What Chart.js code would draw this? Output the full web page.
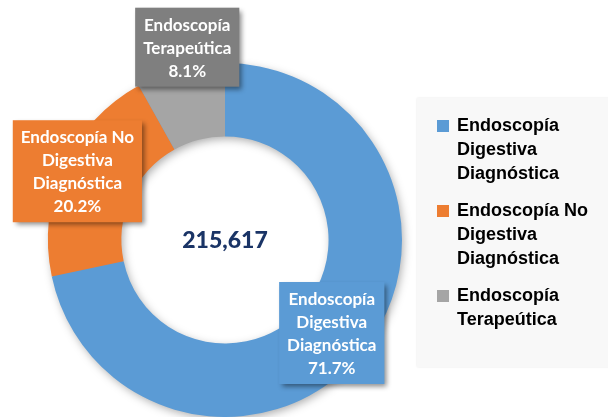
<!DOCTYPE html>
<html>
<head>
<meta charset="utf-8">
<script src="https://cdn.jsdelivr.net/npm/chart.js@4/dist/chart.umd.min.js"></script>
<style>
    html, body { margin: 0; padding: 0; background: #ffffff; }
    canvas { display: block; }
</style>
</head>
<body>
<canvas id="procChart" width="608" height="417"></canvas>
<script>
// Data
const sliceLabels = [
    ['Endoscopía', 'Digestiva', 'Diagnóstica'],
    ['Endoscopía No', 'Digestiva', 'Diagnóstica'],
    ['Endoscopía', 'Terapeútica']
];
const sharePercent = [71.7, 20.2, 8.1];
const totalProcedures = 215617;

const sliceColors = ['#5b9bd5', '#ed7d31', '#a5a5a5'];
const labelBoxColors = ['#5b9bd5', '#ed7d31', '#7f7f7f'];

// label placement: fraction of outer radius + small angle nudge (deg)
const labelRadius = [0.80, 0.92, 1.11];
const labelNudge = [2, 0.5, 3.5];

/**
 * Soft shadow under the ring, drawn before the arcs.
 */
const ringShadow = {
    id: 'ringShadow',
    beforeDatasetsDraw(chart) {
        const arc = chart.getDatasetMeta(0).data[0];
        if (!arc) return;
        const ctx = chart.ctx;
        ctx.save();
        ctx.shadowColor = 'rgba(0, 0, 0, 0.35)';
        ctx.shadowBlur = 10;
        ctx.shadowOffsetX = 2;
        ctx.shadowOffsetY = 3;
        ctx.fillStyle = '#5b9bd5';
        ctx.beginPath();
        ctx.arc(arc.x, arc.y, arc.outerRadius - 1, 0, Math.PI * 2);
        ctx.arc(arc.x, arc.y, arc.innerRadius + 1, 0, Math.PI * 2, true);
        ctx.fill('evenodd');
        ctx.restore();
    }
};

/**
 * Callout boxes with name + percent, and the total in the middle.
 */
const sliceCallouts = {
    id: 'sliceCallouts',
    afterDatasetsDraw(chart) {
        const ctx = chart.ctx;
        const arcs = chart.getDatasetMeta(0).data;
        const lineH = 23;
        ctx.save();
        ctx.font = 'bold 17px Lato';
        ctx.textAlign = 'center';
        ctx.textBaseline = 'middle';

        arcs.forEach((arc, i) => {
            const lines = sliceLabels[i].concat([sharePercent[i].toFixed(1) + '%']);
            const mid = (arc.startAngle + arc.endAngle) / 2 + labelNudge[i] * Math.PI / 180;
            const r = arc.outerRadius * labelRadius[i];
            const cx = arc.x + Math.cos(mid) * r;
            const cy = arc.y + Math.sin(mid) * r;
            const w = Math.max(...lines.map(l => ctx.measureText(l).width)) + 16;
            const h = lines.length * lineH + 10;

            ctx.save();
            ctx.shadowColor = 'rgba(0, 0, 0, 0.45)';
            ctx.shadowBlur = 5;
            ctx.shadowOffsetX = 3;
            ctx.shadowOffsetY = 3;
            ctx.fillStyle = labelBoxColors[i];
            ctx.fillRect(cx - w / 2, cy - h / 2, w, h);
            ctx.restore();

            ctx.fillStyle = '#ffffff';
            lines.forEach((l, k) => {
                ctx.fillText(l, cx, cy - h / 2 + 5 + lineH * (k + 0.5) + 1);
            });
        });

        const first = arcs[0];
        ctx.font = '900 23px Lato';
        ctx.fillStyle = '#1a3466';
        ctx.fillText(totalProcedures.toLocaleString('en-US'), first.x, first.y + 1);
        ctx.restore();
    }
};

/**
 * Legend panel on the right with wrapped names.
 */
const sideLegend = {
    id: 'sideLegend',
    afterDraw(chart) {
        const ctx = chart.ctx;
        const area = chart.chartArea;
        const boxX = area.right + 15;
        const boxY = 98;
        const lineH = 24;
        ctx.save();
        ctx.shadowColor = 'rgba(0, 0, 0, 0.1)';
        ctx.shadowBlur = 2;
        ctx.fillStyle = '#f8f8f8';
        ctx.fillRect(boxX, boxY, chart.width - boxX + 10, 269);
        ctx.restore();

        ctx.save();
        ctx.font = 'bold 18px "Liberation Sans", Arial, sans-serif';
        ctx.textAlign = 'left';
        ctx.textBaseline = 'middle';
        let y = boxY + 28;
        sliceLabels.forEach((lines, i) => {
            ctx.fillStyle = sliceColors[i];
            ctx.fillRect(boxX + 20, y - 6, 12, 12);
            ctx.fillStyle = '#000000';
            lines.forEach((l, k) => {
                ctx.fillText(l, boxX + 40, y + k * lineH);
            });
            y += lines.length * lineH + 13;
        });
        ctx.restore();
    }
};

function createProcedureChart() {
    const ctx = document.getElementById('procChart').getContext('2d');
    new Chart(ctx, {
        type: 'doughnut',
        data: {
            labels: sliceLabels.map(l => l.join(' ')),
            datasets: [{
                data: sharePercent,
                backgroundColor: sliceColors,
                borderWidth: 0
            }]
        },
        options: {
            responsive: false,
            animation: false,
            cutout: '58.5%',
            layout: { padding: { left: 48, right: 206, top: 63, bottom: 0 } },
            plugins: {
                legend: { display: false },
                tooltip: { enabled: false }
            }
        },
        plugins: [ringShadow, sliceCallouts, sideLegend]
    });
}

createProcedureChart();
</script>
</body>
</html>
